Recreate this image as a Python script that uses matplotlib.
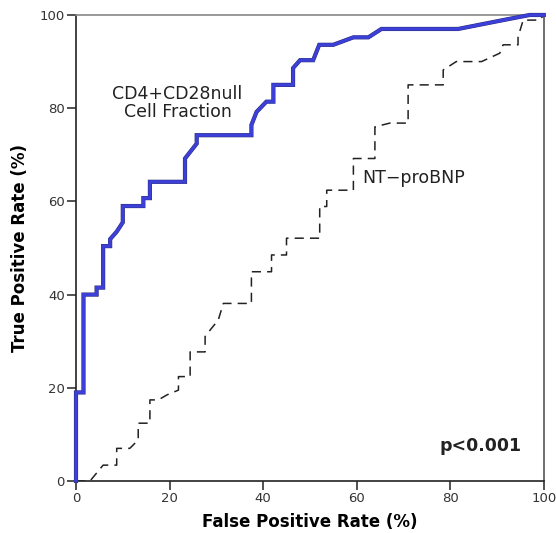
import matplotlib
matplotlib.use("Agg")
import matplotlib.pyplot as plt

# CD4+CD28null Cell Fraction ROC (FPR %, TPR %)
cd4_fpr = [0, 0, 1.6, 1.6, 4.4, 4.4, 5.8, 5.8, 7.3, 7.3, 8.7, 10.0, 10.0, 14.4, 14.4,
           15.8, 15.8, 23.3, 23.3, 25.8, 25.8, 37.5, 37.5, 38.6, 40.7, 42.2, 42.2,
           46.4, 46.4, 47.9, 50.7, 52.0, 55.0, 59.3, 62.5, 65.3, 81.7, 91.3, 97.0, 100]
cd4_tpr = [0, 19, 19, 40, 40, 41.5, 41.5, 50.4, 50.4, 51.9, 53.5, 55.5, 59, 59, 60.7,
           60.7, 64.2, 64.2, 69.2, 72.4, 74.2, 74.2, 76.4, 79.2, 81.4, 81.4, 85,
           85, 88.6, 90.3, 90.3, 93.6, 93.6, 95.2, 95.2, 97, 97, 98.9, 100, 100]

# NT-proBNP ROC (FPR %, TPR %)
bnp_fpr = [0, 3.0, 5.8, 8.7, 8.7, 11.5, 13.3, 13.3, 15.8, 15.8, 17.6, 19.5, 21.9, 21.9,
           24.4, 24.4, 27.6, 27.6, 29.0, 30.4, 31.5, 37.5, 37.5, 41.8, 41.8, 45.0, 45.0,
           52.1, 52.1, 53.6, 53.6, 59.3, 59.3, 63.9, 63.9, 67.1, 71.0, 71.0, 78.5, 78.5,
           81.3, 86.7, 90.6, 91.3, 94.5, 94.5, 95.6, 99.1, 100]
bnp_tpr = [0, 0, 3.4, 3.4, 7, 7, 8.8, 12.4, 12.4, 17.4, 17.4, 18.5, 19.5, 22.4,
           22.4, 27.7, 27.7, 31, 32.8, 34.5, 38.1, 38.1, 44.9, 44.9, 48.5, 48.5, 52.1,
           52.1, 58.9, 58.9, 62.4, 62.4, 69.2, 69.2, 76, 76.8, 76.8, 85, 85, 88.2,
           90, 90, 91.8, 93.6, 93.6, 95.3, 98.9, 98.9, 100]

ticks = [0, 20, 40, 60, 80, 100]

fig = plt.figure(figsize=(5.56, 5.33), dpi=100)
ax = fig.add_axes([0.1367, 0.0976, 0.978 - 0.1367, 0.9719 - 0.0976])

ax.plot(bnp_fpr, bnp_tpr, color="#222222", lw=1.1, linestyle=(0, (6, 4)))
ax.plot(cd4_fpr, cd4_tpr, color="#2c2c7a", lw=3.0, solid_joinstyle="miter",
        zorder=3, clip_on=False)
ax.plot(cd4_fpr, cd4_tpr, color="#3c40d8", lw=2.3, solid_joinstyle="miter",
        zorder=3.1, clip_on=False)

ax.set_xlim(0, 100)
ax.set_ylim(0, 100)
ax.set_xticks(ticks)
ax.set_yticks(ticks)
ax.tick_params(direction="out", length=6.5, width=1.1, labelsize=9.5,
               labelcolor="#333333", pad=1.5, color="#222222")
for s in ax.spines.values():
    s.set_linewidth(1.2)
    s.set_color("#222222")
ax.spines["top"].set_color("#888888")
ax.spines["right"].set_color("#555555")

ax.set_xlabel("False Positive Rate (%)", fontsize=12, fontweight="bold", labelpad=6)
ax.set_ylabel("True Positive Rate (%)", fontsize=12, fontweight="bold", labelpad=8)

ax.text(21.7, 81.1, "CD4+CD28null\nCell Fraction", fontsize=12.5, ha="center",
        va="center", linespacing=1.0, color="#222222")
ax.text(72.2, 65, "NT\u2212proBNP", fontsize=12.5, ha="center", va="center", color="#222222")
ax.text(86.5, 7.6, "p<0.001", fontsize=12.5, ha="center", va="center",
        fontweight="bold", color="#222222")

fig.savefig("out.png", dpi=100)
